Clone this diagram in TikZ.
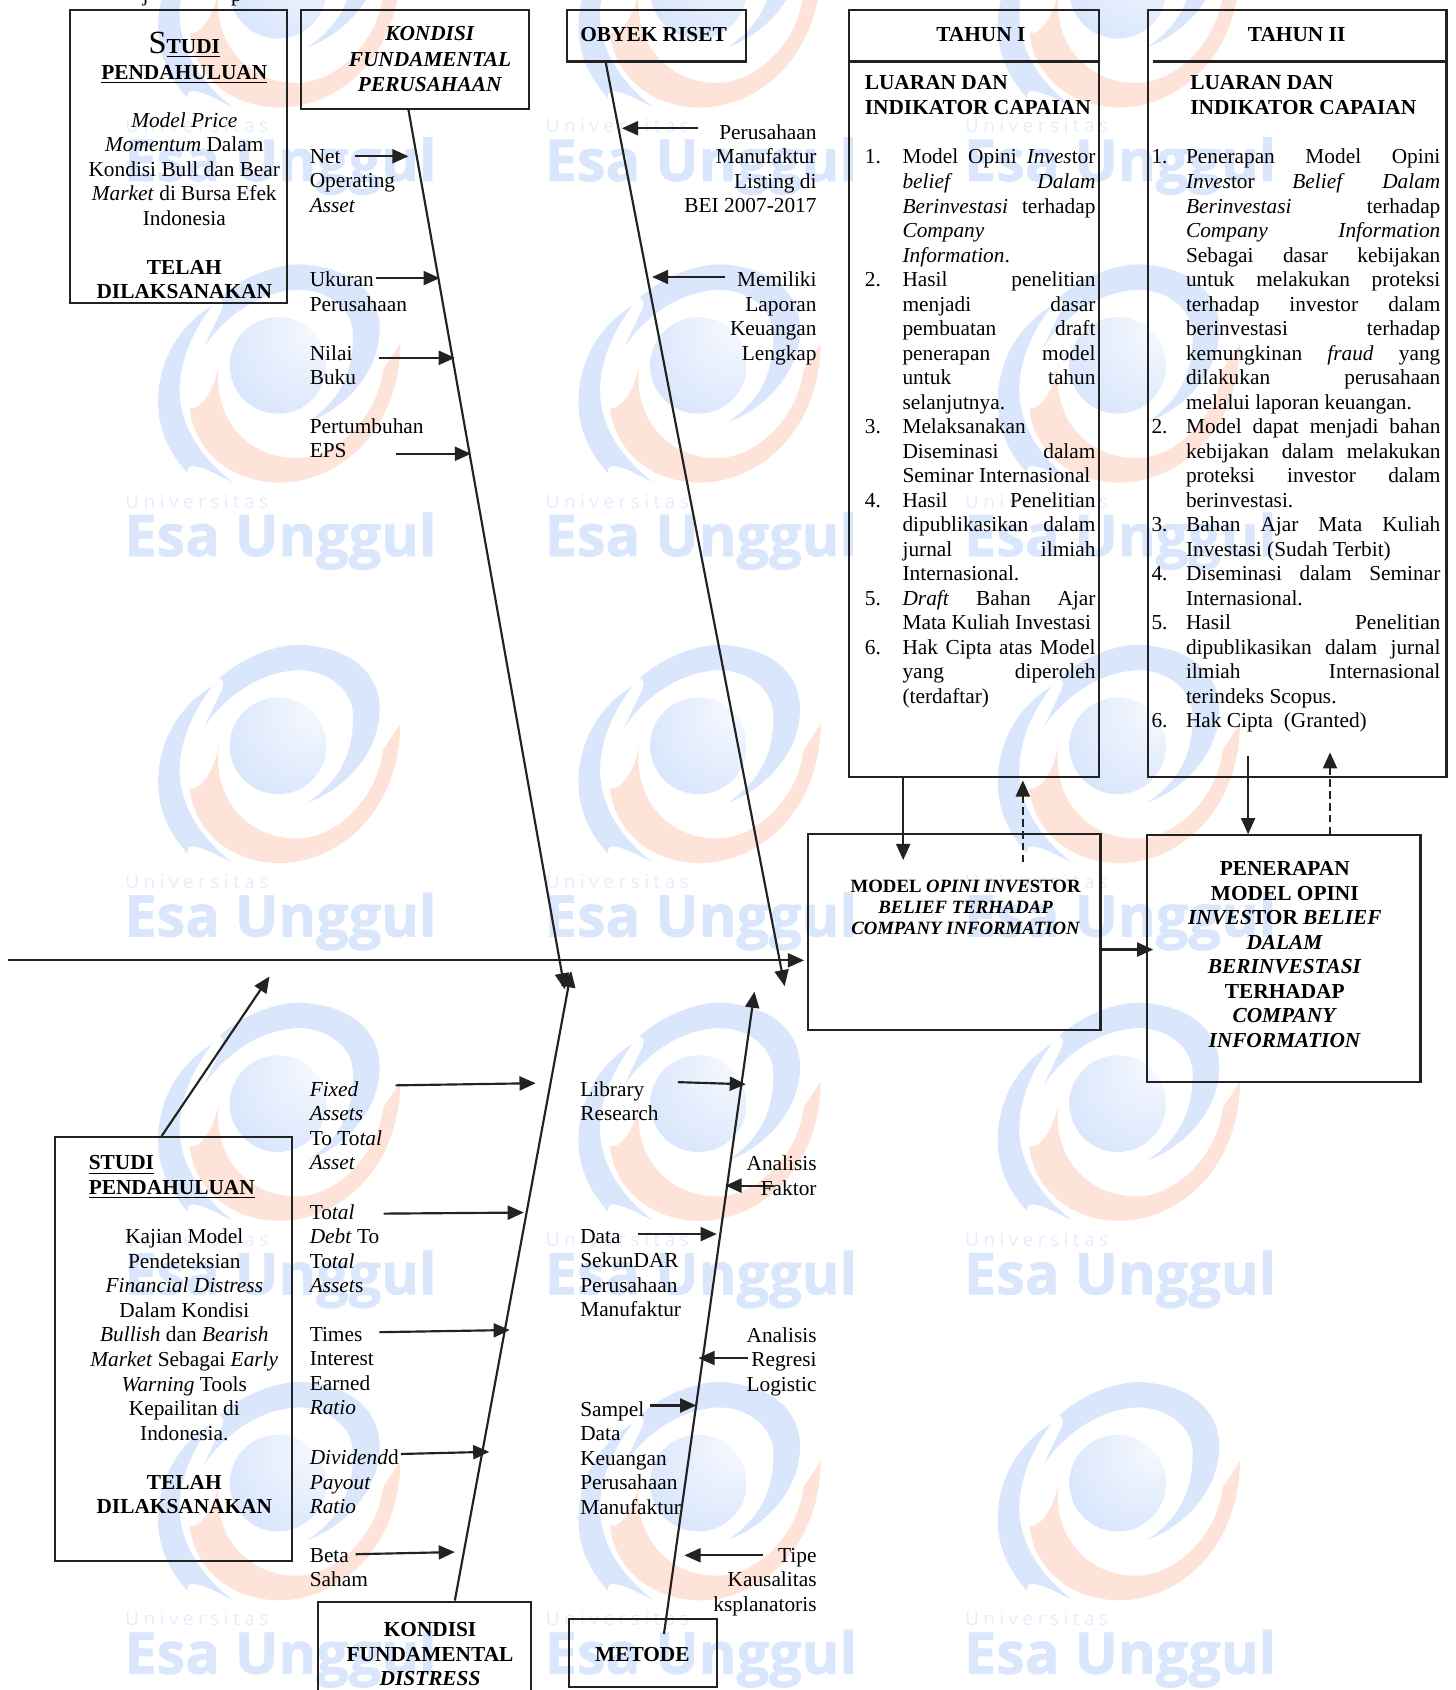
\documentclass[tikz,border=0pt]{standalone}
\usepackage{fontspec}
\setmainfont{Liberation Serif}
\newfontfamily\wmfont[BoldFeatures={FakeBold=1.2}]{Open Sans}
\newfontfamily\wmthin[LetterSpace=24]{Open Sans}
\usetikzlibrary{arrows.meta,fit}

\definecolor{wmblue}{HTML}{D9E6FC}
\definecolor{wmorange}{HTML}{FEE3D9}
\definecolor{garis}{HTML}{222222}
\pgfdeclareradialshading{wmball}{\pgfpoint{22bp}{21bp}}{color(0bp)=(wmblue!20); color(42bp)=(wmblue); color(100bp)=(wmblue)}

\newlength{\nomw}
\newlength{\isiw}
% Justified and plain list lines
\newcommand{\barisj}[2]{\makebox[\nomw][l]{#1}\makebox[\isiw][s]{#2}}
\newcommand{\barisl}[2]{\makebox[\nomw][l]{#1}\makebox[\isiw][l]{#2}}
\newcommand{\kotak}[5]{\node[kotak, fit={(#2,#3) (#4,#5)}] (#1) {};}

\tikzset{
  kotak/.style={draw=garis, line width=1pt, inner sep=0pt},
  teks/.style={inner sep=0pt, yshift=3.5pt, execute at begin node=\strut},
  kiri/.style={teks, anchor=north west, align=left},
  kanan/.style={teks, anchor=north east, align=right},
  tengah/.style={teks, anchor=north, align=center},
  panah/.style={draw=garis, line width=1pt, -{Triangle[length=7.5pt,width=6.5pt]}},
}

\begin{document}
\begin{tikzpicture}[x=.5pt, y=-.5pt, font=\fontsize{9.9}{11.37}\selectfont]
  \useasboundingbox (0,0) rectangle (1350,1568);
  \clip (0,0) rectangle (1350,1568);

  % Watermark grid
  \foreach \cx in {258,648,1037} {
    \foreach \cy in {-9,339,692,1024,1376} {
      \begin{scope}[shift={(\cx,\cy)}, x=.1546pt, y=-.1546pt]
        \fill[wmblue] (-223,-54) -- (-167,-172) .. controls (-160,-190) and (-168,-195) .. (-175,-204)
          .. controls (-90,-280) and (30,-315) .. (100,-300) .. controls (230,-285) and (305,-210) .. (305,-110)
          .. controls (305,20) and (200,130) .. (90,170) .. controls (190,100) and (225,20) .. (225,-90)
          .. controls (225,-170) and (150,-225) .. (65,-227) .. controls (-50,-225) and (-160,-150) .. (-223,-54) -- cycle;
        \fill[wmblue] (-197,-180) .. controls (-310,-110) and (-360,0) .. (-360,110)
          .. controls (-360,200) and (-320,270) .. (-272,323) .. controls (-272,310) and (-270,302) .. (-255,302)
          .. controls (-220,305) and (-180,330) .. (-137,350) .. controls (-240,270) and (-300,170) .. (-295,60)
          .. controls (-290,-30) and (-250,-110) .. (-197,-180) -- cycle;
        \fill[wmorange] (-177,-4) .. controls (-190,70) and (-230,135) .. (-265,128)
          .. controls (-255,240) and (-160,350) .. (5,352) .. controls (190,350) and (365,190) .. (367,-67)
          -- (315,13) .. controls (300,150) and (180,278) .. (55,278)
          .. controls (-90,278) and (-200,160) .. (-177,-4) -- cycle;
        \shade[shading=wmball] (0,0) circle (145);
      \end{scope}
      \node[anchor=west, inner sep=0pt, text=wmblue!70] (univ\cx\cy) at (\cx-142,\cy+126) {\wmthin\fontsize{8.75}{10}\selectfont Universitas};
      \node[anchor=west, inner sep=0pt, text=wmblue] (esa\cx\cy) at (\cx-143,\cy+163) {\wmfont\bfseries\fontsize{26.7}{30}\selectfont Esa Unggul};
    }
  }

  % Stray descenders at the top edge
  \node[kiri] (stray1) at (132,-8) {j};
  \node[kiri] (stray2) at (214,-8) {p};

  % Boxes
  \kotak{studiA}{65}{9}{266}{281}
  \kotak{kondisiA}{279}{9}{491}{101}
  \kotak{obyek}{526}{9}{692}{57}
  \kotak{tahunA}{788}{9}{1020}{721}
  \kotak{tahunB}{1065}{9}{1342}{721}
  \kotak{model}{750}{774}{1021}{956}
  \kotak{penerapan}{1064}{775}{1318}{1004}
  \kotak{studiB}{51}{1055}{271}{1448}
  \kotak{kondisiB}{295}{1486}{493}{1600}
  \kotak{metode}{528}{1502}{665}{1565}

  % Header rules of the two year columns
  \coordinate (ruleA) at (788,57);
  \coordinate (ruleB) at (1070,57);
  \draw[garis, line width=1pt] (ruleA) -- (ruleA -| tahunA.east);
  \draw[garis, line width=1pt] (ruleB) -- (ruleB -| tahunB.east);

  % Spine and main bones
  \coordinate (ekorS) at (7,891);
  \coordinate (kepalaS) at (746,891);
  \coordinate (ujungA) at (524,918);
  \coordinate (ujungB) at (530,901);
  \coordinate (ujungC) at (728,915);
  \coordinate (ujungD) at (700,920);
  \coordinate (ujungE) at (250,906);
  \coordinate (awalD) at (616,1516);
  \draw[panah] (ekorS) -- (kepalaS);
  \draw[panah] (379,0 |- kondisiA.south) -- (ujungA);
  \draw[panah] (422,0 |- kondisiB.north) -- (ujungB);
  \draw[panah] (562,0 |- obyek.south) -- (ujungC);
  \draw[panah] (awalD) -- (ujungD);
  \draw[panah] (150,0 |- studiB.north) -- (ujungE);

  % Arrows around the result boxes
  \coordinate (turunA) at (838,798);
  \coordinate (naikA) at (949,724);
  \coordinate (dasarA) at (949,800);
  \coordinate (atasB) at (1158,701);
  \coordinate (naikB) at (1234,698);
  \draw[panah] (838,0 |- tahunA.south) -- (turunA);
  \draw[panah, dashed, dash pattern=on 3.5pt off 2pt] (dasarA) -- (naikA);
  \draw[panah] (atasB) -- (1158,0 |- penerapan.north);
  \draw[panah, dashed, dash pattern=on 3.5pt off 2pt] (1234,0 |- penerapan.north) -- (naikB);
  \draw[panah] (model.east |- 0,881) -- (1070,881);

  % Small arrows next to the labels
  \foreach \nm/\xa/\ya/\xb/\yb in {
    net/329/145/379/145, ukuran/349/258/408/258, nilai/352/332/422/332, eps/367/421/437/421,
    listing/648/119/577/119, lapor/673/257/605/257,
    fixed/367/1007/497/1005, debt/356/1126/486/1125, times/352/1236/473/1234,
    payout/372/1349/454/1347, beta/330/1442/422/1440,
    library/629/1004/692/1006, faktor/718/1100/673/1100, sekunder/592/1145/665/1145,
    regresi/694/1260/648/1260, sampel/603/1304/646/1304, tipe/708/1443/635/1443} {
    \coordinate (\nm a) at (\xa,\ya);
    \coordinate (\nm b) at (\xb,\yb);
    \draw[panah] (\nm a) -- (\nm b);
  }

  % Upper left box
  \node[tengah] (studiAjudul) at (171,36) {{\fontsize{15}{15}\selectfont S}\underline{\textbf{TUDI}}};
  \node[tengah] (studiAjudul2) at (171,64) {\underline{\textbf{PENDAHULUAN}}};
  \node[tengah] (studiAisi) at (171,111) {\emph{Model Price}\\\emph{Momentum} Dalam\\Kondisi Bull dan Bear\\\emph{Market} di Bursa Efek\\Indonesia\\[\baselineskip]\textbf{TELAH}\\\textbf{DILAKSANAKAN}};
  \node[tengah] (kondisiAteks) at (399,31) {\textbf{\emph{KONDISI}}\\[.5pt]\textbf{\emph{FUNDAMENTAL}}\\[.5pt]\textbf{\emph{PERUSAHAAN}}};
  \node[kiri] (obyekteks) at (538,29) {\textbf{OBYEK RISET}};

  % Labels of the upper bones
  \node[kiri] (lblnet) at (287,145) {Net\\Operating\\\emph{Asset}};
  \node[kiri] (lblukuran) at (287,259) {Ukuran\\Perusahaan};
  \node[kiri] (lblnilai) at (287,327) {Nilai\\Buku};
  \node[kiri] (lbleps) at (287,395) {Pertumbuhan\\EPS};
  \node[kanan] (lbllisting) at (758,122) {Perusahaan\\Manufaktur\\Listing di\\BEI 2007-2017};
  \node[kanan] (lbllapor) at (758,259) {Memiliki\\Laporan\\Keuangan\\Lengkap};

  % Year one column
  \node[tengah] (tahunAjudul) at (910,29) {\textbf{TAHUN I}};
  \node[kiri] (luaranA) at (802,77) {\textbf{LUARAN DAN}\\\textbf{INDIKATOR CAPAIAN}};
  \setlength{\nomw}{17.5pt}
  \setlength{\isiw}{89.5pt}
  \node[kiri] (listA) at (802,145) {%
    \barisj{1.}{Model Opini \emph{Inves}tor}\\
    \barisj{}{\emph{belief} \emph{Dalam}}\\
    \barisj{}{\emph{Berinvestasi} terhadap}\\
    \barisl{}{\emph{Company}}\\
    \barisl{}{\emph{Information}.}\\
    \barisj{2.}{Hasil penelitian}\\
    \barisj{}{menjadi dasar}\\
    \barisj{}{pembuatan draft}\\
    \barisj{}{penerapan model}\\
    \barisj{}{untuk tahun}\\
    \barisl{}{selanjutnya.}\\
    \barisl{3.}{Melaksanakan}\\
    \barisj{}{Diseminasi dalam}\\
    \barisl{}{Seminar Internasional}\\
    \barisj{4.}{Hasil Penelitian}\\
    \barisj{}{dipublikasikan dalam}\\
    \barisj{}{jurnal ilmiah}\\
    \barisl{}{Internasional.}\\
    \barisj{5.}{\emph{Draft} Bahan Ajar}\\
    \barisl{}{Mata Kuliah Investasi}\\
    \barisj{6.}{Hak Cipta atas Model}\\
    \barisj{}{yang diperoleh}\\
    \barisl{}{(terdaftar)}};

  % Year two column
  \node[tengah] (tahunBjudul) at (1203,29) {\textbf{TAHUN II}};
  \node[kiri] (luaranB) at (1104,77) {\textbf{LUARAN DAN}\\\textbf{INDIKATOR CAPAIAN}};
  \setlength{\nomw}{16pt}
  \setlength{\isiw}{118pt}
  \node[kiri] (listB) at (1068,145) {%
    \barisj{1.}{Penerapan Model Opini}\\
    \barisj{}{\emph{Inves}tor \emph{Belief} \emph{Dalam}}\\
    \barisj{}{\emph{Berinvestasi} terhadap}\\
    \barisj{}{\emph{Company} \emph{Information}}\\
    \barisj{}{Sebagai dasar kebijakan}\\
    \barisj{}{untuk melakukan proteksi}\\
    \barisj{}{terhadap investor dalam}\\
    \barisj{}{berinvestasi terhadap}\\
    \barisj{}{kemungkinan \emph{fraud} yang}\\
    \barisj{}{dilakukan perusahaan}\\
    \barisl{}{melalui laporan keuangan.}\\
    \barisj{2.}{Model dapat menjadi bahan}\\
    \barisj{}{kebijakan dalam melakukan}\\
    \barisj{}{proteksi investor dalam}\\
    \barisl{}{berinvestasi.}\\
    \barisj{3.}{Bahan Ajar Mata Kuliah}\\
    \barisl{}{Investasi (Sudah Terbit)}\\
    \barisj{4.}{Diseminasi dalam Seminar}\\
    \barisl{}{Internasional.}\\
    \barisj{5.}{Hasil Penelitian}\\
    \barisj{}{dipublikasikan dalam jurnal}\\
    \barisj{}{ilmiah Internasional}\\
    \barisl{}{terindeks Scopus.}\\
    \barisl{6.}{Hak Cipta\ \ (Granted)}};

  % Result boxes
  \node[tengah, font=\fontsize{8.7}{9.85}\selectfont] (modelteks) at (896,823) {\textbf{MODEL \emph{OPINI INVE}STOR}\\\textbf{\emph{BELIEF TERHADAP}}\\\textbf{\emph{COMPANY INFORMATION}}};
  \node[tengah] (penerapanteks) at (1192,806) {\textbf{PENERAPAN}\\\textbf{MODEL OPINI}\\\textbf{\emph{INVES}TOR \emph{BELIEF}}\\\textbf{\emph{DALAM}}\\\textbf{\emph{BERINVESTASI}}\\\textbf{TERHADAP}\\\textbf{\emph{COMPANY}}\\\textbf{\emph{INFORMATION}}};

  % Lower left box
  \node[kiri] (studiBjudul) at (82,1079) {\underline{\textbf{STUDI}}\\\underline{\textbf{PENDAHULUAN}}};
  \node[tengah] (studiBisi) at (171,1147) {Kajian Model\\Pendeteksian\\\emph{Financial Distress}\\Dalam Kondisi\\\emph{Bullish} dan \emph{Bearish}\\\emph{Market} Sebagai \emph{Early}\\\emph{Warning} Tools\\Kepailitan di\\Indonesia.\\[\baselineskip]\textbf{TELAH}\\\textbf{DILAKSANAKAN}};

  % Labels of the lower bones
  \node[kiri] (lblfixed) at (287,1010) {\emph{Fixed}\\\emph{Assets}\\To To\emph{tal}\\\emph{Asset}};
  \node[kiri] (lbldebt) at (287,1124) {To\emph{tal}\\\emph{Debt} To\\To\emph{tal}\\\emph{Asset}s};
  \node[kiri] (lbltimes) at (287,1238) {Times\\Interest\\Earned\\\emph{Ratio}};
  \node[kiri] (lblpayout) at (287,1352) {\emph{Dividend}d\\\emph{Payout}\\\emph{Ratio}};
  \node[kiri] (lblbeta) at (287,1443) {Beta\\Saham};
  \node[kiri] (lbllibrary) at (538,1010) {Library\\Research};
  \node[kiri] (lblsekunder) at (538,1147) {Data\\SekunDAR\\Perusahaan\\Manufaktur};
  \node[kiri] (lblsampel) at (538,1307) {Sampel\\Data\\Keuangan\\Perusahaan\\Manufaktur};
  \node[kanan] (lblfaktor) at (758,1079) {Analisis\\Faktor};
  \node[kanan] (lblregresi) at (758,1238) {Analisis\\Regresi\\Logistic};
  \node[kanan] (lbltipe) at (758,1443) {Tipe\\Kausalitas\\ksplanatoris};

  % Bottom boxes
  \node[tengah] (kondisiBteks) at (399,1512) {\textbf{KONDISI}\\\textbf{FUNDAMENTAL}\\\textbf{\emph{DISTRESS}}};
  \node[tengah] (metodeteks) at (596,1532) {\textbf{METODE}};
\end{tikzpicture}
\end{document}
